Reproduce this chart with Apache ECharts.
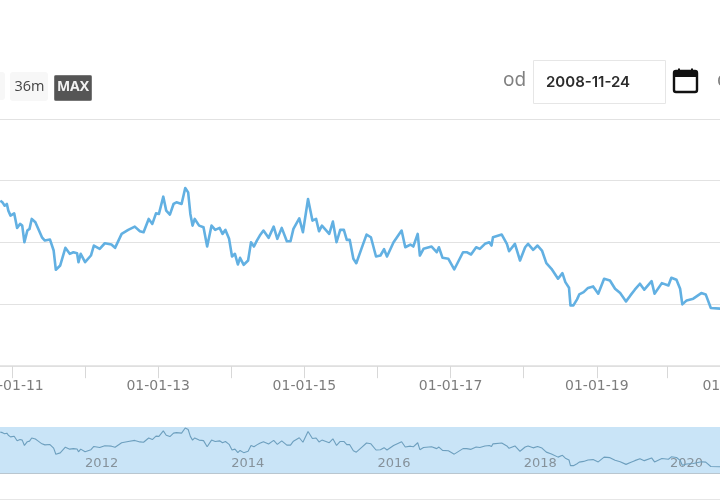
<!DOCTYPE html>
<html>
<head>
<meta charset="utf-8">
<style>html,body{margin:0;padding:0;background:#fff}#chart{width:720px;height:500px}</style>
<script src="https://cdn.jsdelivr.net/npm/echarts@6/dist/echarts.min.js"></script>
</head>
<body>
<div id="chart"></div>
<script>
// Quote history: time in decimal years, price in index points
const years = [
2010.84,2010.87,2010.90,2010.93,2010.95,2010.98,2011.03,2011.07,2011.11,2011.14,2011.17,2011.21,2011.24,2011.27,2011.32,2011.35,2011.41,2011.45,2011.52,2011.57,2011.60,2011.66,2011.73,2011.79,2011.84,2011.89,2011.91,2011.94,
2012.00,2012.08,2012.12,2012.20,2012.27,2012.36,2012.41,2012.50,2012.59,2012.68,2012.75,2012.80,2012.87,2012.92,2012.97,
2013.01,2013.07,2013.11,2013.16,2013.21,2013.25,2013.32,2013.37,2013.41,2013.44,2013.47,2013.50,2013.56,2013.62,2013.67,2013.73,2013.78,2013.84,2013.88,2013.92,2013.97,
2014.01,2014.05,2014.09,2014.12,2014.17,2014.23,2014.27,2014.31,2014.35,2014.39,2014.44,2014.51,2014.58,2014.63,2014.69,2014.76,2014.81,2014.85,2014.93,2014.98,
2015.05,2015.11,2015.16,2015.20,2015.24,2015.34,2015.39,2015.44,2015.49,2015.54,2015.58,2015.62,2015.67,2015.71,2015.78,2015.85,2015.91,2015.98,
2016.04,2016.09,2016.13,2016.22,2016.33,2016.38,2016.45,2016.49,2016.55,2016.58,2016.63,2016.74,2016.81,2016.84,2016.89,2016.97,
2017.05,2017.17,2017.22,2017.28,2017.35,2017.40,2017.47,2017.53,2017.56,2017.58,2017.70,2017.77,2017.80,2017.88,2017.95,
2018.02,2018.06,2018.13,2018.19,2018.25,2018.31,2018.38,2018.47,2018.53,2018.57,2018.62,2018.64,2018.68,2018.73,2018.76,2018.82,2018.88,2018.95,
2019.02,2019.10,2019.18,2019.25,2019.32,2019.40,2019.46,2019.52,2019.59,2019.65,2019.75,2019.79,2019.89,2019.98,
2020.02,2020.09,2020.14,2020.17,2020.23,2020.32,2020.43,2020.49,2020.56,2020.69,2020.78
];
const prices = [
166,164.3,161,162.7,156,151,153.3,138.7,142.7,141,124.3,136,137.7,147.7,144.3,139.3,129.3,126,127,116,96.7,101,118.7,112.7,114.3,113.3,104.3,112.7,
104.3,111,121,117.7,123.3,122,118.7,132.7,136.7,140,135.3,134.3,147.7,142.7,153.3,
152.7,170,156,152,162.7,164.3,162.7,178.7,174.3,152.7,141,147.7,141,139.3,120,141,136.7,138.7,132.7,136.7,127.7,
110,112.7,102,108.7,101.7,106,124.3,120,126,131,136,128.7,140,127.7,138.7,125.3,125.3,137.7,148.3,134.3,
167.7,146,147.7,135.3,141,132.7,145,124.3,136.7,136.7,126.7,126.7,107.7,103.3,117.7,132,129.3,110,
111,117.3,110,124.3,136,119.3,122,120,132.7,111,117.7,120,114.3,119.3,108.7,107.7,
97,114.3,114.3,112,119.3,117.7,122.7,124.3,121,129.3,132,122.7,115.3,122.7,106,
119.3,122.7,116.7,121,116,103.3,97.7,87.7,93.3,84.3,78.7,61,61,67,72,74.3,78.5,80,
72.7,87.7,86,77.7,73.3,65,71,76.7,82.7,76.7,85.3,72.7,83.3,81,
88.7,86.7,77.7,62,66,67.7,73.3,72,58.3,57.7,57
];

// Main axis ticks and the labels on every other one
const tickYears = [2011,2012,2013,2014,2015,2016,2017,2018,2019,2019.96,2020.88];
const labelYears = [2011,2013,2015,2017,2019,2020.88];
const labelTexts = ['01-01-11','01-01-13','01-01-15','01-01-17','01-01-19','01-01-21'];

// Overview strip labels
const overviewYears = [2012,2014,2016,2018,2020];

const xMin = 2009.836, xMax = 2021.78;
const points = years.map((y, i) => [y, prices[i]]);
const axisFont = '"DejaVu Sans"';

const chart = echarts.init(document.getElementById('chart'), null, {renderer: 'canvas'});
chart.setOption({
  animation: false,
  backgroundColor: '#fff',
  grid: [
    {left: -73.1, width: 873.1, top: 118.9, height: 247.3, containLabel: false, outerBoundsMode: 'none'},
    {left: -73.1, width: 873.1, top: 427, height: 46, containLabel: false, outerBoundsMode: 'none',
     show: true, backgroundColor: '#c9e4f7', borderWidth: 0}
  ],
  xAxis: [
    {
      type: 'value', gridIndex: 0, min: xMin, max: xMax,
      splitLine: {show: false},
      axisLine: {show: true, lineStyle: {color: '#dedede', width: 1.5}},
      axisTick: {show: true, length: 12, customValues: tickYears, lineStyle: {color: '#d8d8d8', width: 1}},
      axisLabel: {
        customValues: labelYears, margin: 13, fontSize: 14, fontFamily: axisFont, color: '#7d7d7d',
        hideOverlap: false, showMinLabel: true, showMaxLabel: true,
        formatter: v => labelTexts[labelYears.indexOf(v)]
      }
    },
    {
      type: 'value', gridIndex: 1, min: xMin, max: xMax,
      splitLine: {show: false},
      axisLine: {show: true, lineStyle: {color: '#b9c6cf', width: 1}},
      axisTick: {show: false},
      axisLabel: {
        inside: true, customValues: overviewYears, margin: 3, align: 'left',
        fontSize: 13, fontFamily: axisFont, color: '#86929b',
        formatter: v => String(v)
      }
    }
  ],
  yAxis: [
    {
      type: 'value', gridIndex: 0, min: 0, max: 248, interval: 62,
      axisLine: {show: false}, axisTick: {show: false}, axisLabel: {show: false},
      splitLine: {lineStyle: {color: '#e2e2e2', width: 1.2}}
    },
    {
      type: 'value', gridIndex: 1, min: 38, max: 182,
      axisLine: {show: false}, axisTick: {show: false}, axisLabel: {show: false},
      splitLine: {show: false}
    }
  ],
  series: [
    {type: 'line', xAxisIndex: 0, yAxisIndex: 0, data: points, showSymbol: false,
     lineStyle: {color: '#62b0e2', width: 2.6, join: 'round'}, z: 3},
    {type: 'line', xAxisIndex: 1, yAxisIndex: 1, data: points, showSymbol: false,
     lineStyle: {color: '#6d9fbe', width: 1.1}, z: 3}
  ],
  graphic: [
    // Range buttons
    {type: 'rect', shape: {x: -4, y: 72, width: 9, height: 28, r: 3}, style: {fill: '#f7f7f7'}},
    {type: 'rect', shape: {x: 10, y: 72, width: 38, height: 29, r: 3}, style: {fill: '#f7f7f7'}},
    {type: 'text', style: {x: 29.5, y: 87, text: '36m', align: 'center', verticalAlign: 'middle',
      font: '14.5px "Open Sans"', fill: '#444'}},
    {type: 'rect', shape: {x: 54.5, y: 75.5, width: 37, height: 25, r: 1}, style: {fill: '#555', stroke: '#777', lineWidth: 1}},
    {type: 'text', style: {x: 73, y: 87, text: 'MAX', align: 'center', verticalAlign: 'middle',
      font: 'bold 14px "Open Sans"', fill: '#f2f2f2'}},
    // Date range control
    {type: 'text', style: {x: 503, y: 81, text: 'od', verticalAlign: 'middle', font: '19px "Noto Sans"', fill: '#808080'}},
    {type: 'rect', shape: {x: 533.5, y: 60.5, width: 132, height: 43}, style: {fill: '#fff', stroke: '#e6e6e6', lineWidth: 1}},
    {type: 'text', style: {x: 546, y: 82, text: '2008-11-24', verticalAlign: 'middle', font: '600 15px Inter', fill: '#2b2b2b'}},
    {type: 'rect', shape: {x: 674, y: 71, width: 23, height: 21, r: 2}, style: {fill: '#fff', stroke: '#111', lineWidth: 2.4}},
    {type: 'rect', shape: {x: 674, y: 71, width: 23, height: 6}, style: {fill: '#111'}},
    {type: 'rect', shape: {x: 678, y: 68.5, width: 2, height: 4}, style: {fill: '#111'}},
    {type: 'rect', shape: {x: 691, y: 68.5, width: 2, height: 4}, style: {fill: '#111'}},
    {type: 'text', style: {x: 717, y: 81, text: 'do', verticalAlign: 'middle', font: '19px "Noto Sans"', fill: '#808080'}},
    // Rule under the overview strip
    {type: 'line', shape: {x1: 0, y1: 499.5, x2: 720, y2: 499.5}, style: {stroke: '#e6e6e6', lineWidth: 1}}
  ]
});
</script>
</body>
</html>
